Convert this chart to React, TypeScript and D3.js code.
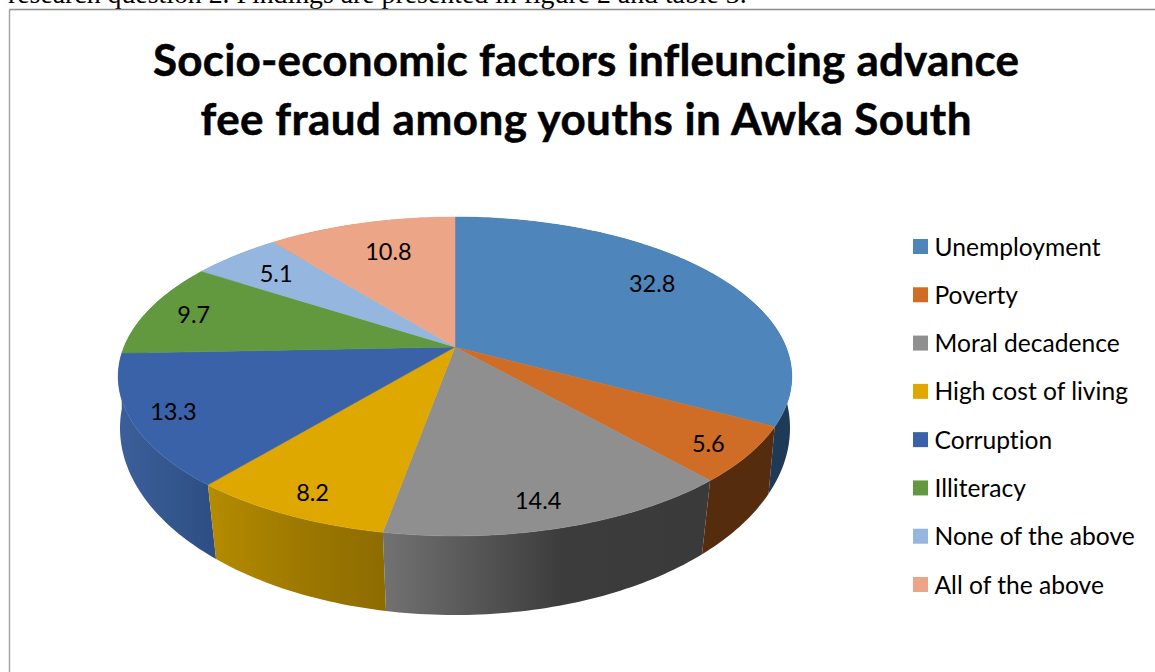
import React from "react";
import * as d3 from "d3";

const categories = ["Unemployment", "Poverty", "Moral decadence", "High cost of living", "Corruption", "Illiteracy", "None of the above", "All of the above"];
const percentages = [32.8, 5.6, 14.4, 8.2, 13.3, 9.7, 5.1, 10.8];
const valueLabels = ["32.8", "5.6", "14.4", "8.2", "13.3", "9.7", "5.1", "10.8"];
const titleLines = ["Socio-economic factors infleuncing advance", "fee fraud among youths in Awka South"];
const titleWidths = [866, 771];
const topColors = ["#4e86bb", "#cf6c26", "#8f8f8f", "#dfa800", "#3a62a8", "#62993e", "#95b6de", "#eca586"];
const wallStart = ["#1f3a57", "#562c0f", "#727272", "#b58b00", "#3c5f9c", "#4a7430", "#708aa8", "#b37d66"];
const wallMiddle = ["#1f3a57", "#562c0f", "#3c3c3c", "#9c7800", "#34578f", "#4a7430", "#708aa8", "#b37d66"];
const wallEnd = ["#1f3a57", "#562c0f", "#3a3a3a", "#8e6c00", "#2e4f85", "#4a7430", "#708aa8", "#b37d66"];
const labelRadius = [0.781, 0.888, 0.871, 0.885, 0.88, 0.85, 0.79, 0.733];
const labelTurnDeg = [-3.5, 1.2, 1.6, -0.6, 0, -0.3, -0.5, 1.4];

const WIDTH = 1155;
const HEIGHT = 672;

// Perspective view of the pie's disc: the apex sits above the ellipse centre.
const APEX_X = 455;
const APEX_Y = 347;
const RADIUS_X = 331;
const RADIUS_Y = 154;
const TILT = 0.185;

// Outline of the top face and of the underside, as screen ellipses.
const TOP_CY = 376.5;
const TOP_RX = 337;
const TOP_RY = 160;
const LOW_CY = 428;
const LOW_RX = 335;
const LOW_RY = 187;

type Pt = [number, number];

const project = (angle: number, r = 1): Pt => {
  const u = r * Math.sin(angle);
  const v = -r * Math.cos(angle);
  const d = 1 - TILT * v;
  return [APEX_X + (RADIUS_X * u) / d, APEX_Y + (RADIUS_Y * v) / d];
};

// Rim point to the matching underside point; the vertical edges lean inward near the sides.
const lower = ([x, y]: Pt): Pt => {
  const t = Math.atan2((y - TOP_CY) / TOP_RY, (x - APEX_X) / TOP_RX);
  const shifted = t + ((2.4 * Math.PI) / 180) * Math.cos(t);
  return [APEX_X + LOW_RX * Math.cos(shifted), LOW_CY + LOW_RY * Math.sin(shifted)];
};

const arcPoints = (a0: number, a1: number): Pt[] => {
  const n = Math.max(2, Math.ceil(((a1 - a0) * 180) / Math.PI));
  return d3.range(n + 1).map((i) => project(a0 + ((a1 - a0) * i) / n));
};

const pathOf = d3.line<Pt>().x((p) => p[0]).y((p) => p[1]);

const slices = d3
  .pie<number>()
  .sort(null)
  .value((d) => d)(percentages)
  .map((s, i) => {
    const rim = arcPoints(s.startAngle, s.endAngle);
    const wall = [...rim, ...rim.map(lower).reverse()];
    const visible = rim.filter((p) => p[1] > 370);
    const xs = (visible.length ? visible : rim).map((p) => p[0]);
    return {
      i,
      mid: (s.startAngle + s.endAngle) / 2,
      top: pathOf([[APEX_X, APEX_Y], ...rim])! + "Z",
      wall: pathOf(wall)! + "Z",
      x0: d3.min(xs)!,
      x1: d3.max(xs)!,
      depth: d3.max(rim, (p) => p[1])!,
    };
  });

const drawOrder = [...slices].sort((a, b) => a.depth - b.depth);

const legendY = d3.scalePoint<string>().domain(categories).range([247, 585]);

const SANS = "Lato, 'Noto Sans', sans-serif";
const NO_LIGATURES = { fontVariantLigatures: "none" } as const;

export default function App() {
  return (
    <svg
      width={WIDTH}
      height={HEIGHT}
      viewBox={`0 0 ${WIDTH} ${HEIGHT}`}
      style={{ position: "fixed", left: 0, top: 0, display: "block", background: "#fff" }}
    >
      <defs>
        {slices.map((s) => (
          <linearGradient key={s.i} id={`wall-${s.i}`} gradientUnits="userSpaceOnUse" x1={s.x0} x2={s.x1} y1={0} y2={0}>
            <stop offset="0" stopColor={wallStart[s.i]} />
            <stop offset="0.55" stopColor={wallMiddle[s.i]} />
            <stop offset="1" stopColor={wallEnd[s.i]} />
          </linearGradient>
        ))}
      </defs>

      <text x={8} y={3} fontFamily="'Liberation Serif', serif" fontSize={27.8} fill="#000">
        research question 2. Findings are presented in figure 2 and table 3.
      </text>
      <line x1={9.5} x2={9.5} y1={9.5} y2={HEIGHT} stroke="#a6a6a6" strokeWidth={1.5} />
      <line x1={9.5} x2={WIDTH} y1={9.5} y2={9.5} stroke="#8c8c8c" strokeWidth={1.5} />

      {titleLines.map((t, i) => (
        <text
          key={t}
          x={586}
          y={76 + i * 59}
          textAnchor="middle"
          fontFamily={SANS}
          fontWeight={700}
          fontSize={44}
          textLength={titleWidths[i]}
          lengthAdjust="spacing"
          stroke="#000"
          strokeWidth={0.5}
          fill="#000"
          style={NO_LIGATURES}
        >
          {t}
        </text>
      ))}

      {drawOrder.map((s) => (
        <path key={s.i} d={s.wall} fill={`url(#wall-${s.i})`} />
      ))}
      {slices.map((s) => (
        <path key={s.i} d={s.top} fill={topColors[s.i]} stroke={topColors[s.i]} strokeWidth={0.5} />
      ))}

      {slices.map((s) => {
        const [x, y] = project(s.mid + (labelTurnDeg[s.i] * Math.PI) / 180, labelRadius[s.i]);
        return (
          <text key={s.i} x={x} y={y} dy="0.35em" textAnchor="middle" fontFamily={SANS} fontSize={23.5} fill="#000">
            {valueLabels[s.i]}
          </text>
        );
      })}

      {categories.map((c, i) => (
        <g key={c} transform={`translate(913,${legendY(c)})`}>
          <rect x={0} y={-8} width={15} height={15} fill={topColors[i]} />
          <text x={21.5} y={0} dy="0.35em" fontFamily={SANS} fontSize={24.6} fill="#000" style={NO_LIGATURES}>
            {c}
          </text>
        </g>
      ))}
    </svg>
  );
}
